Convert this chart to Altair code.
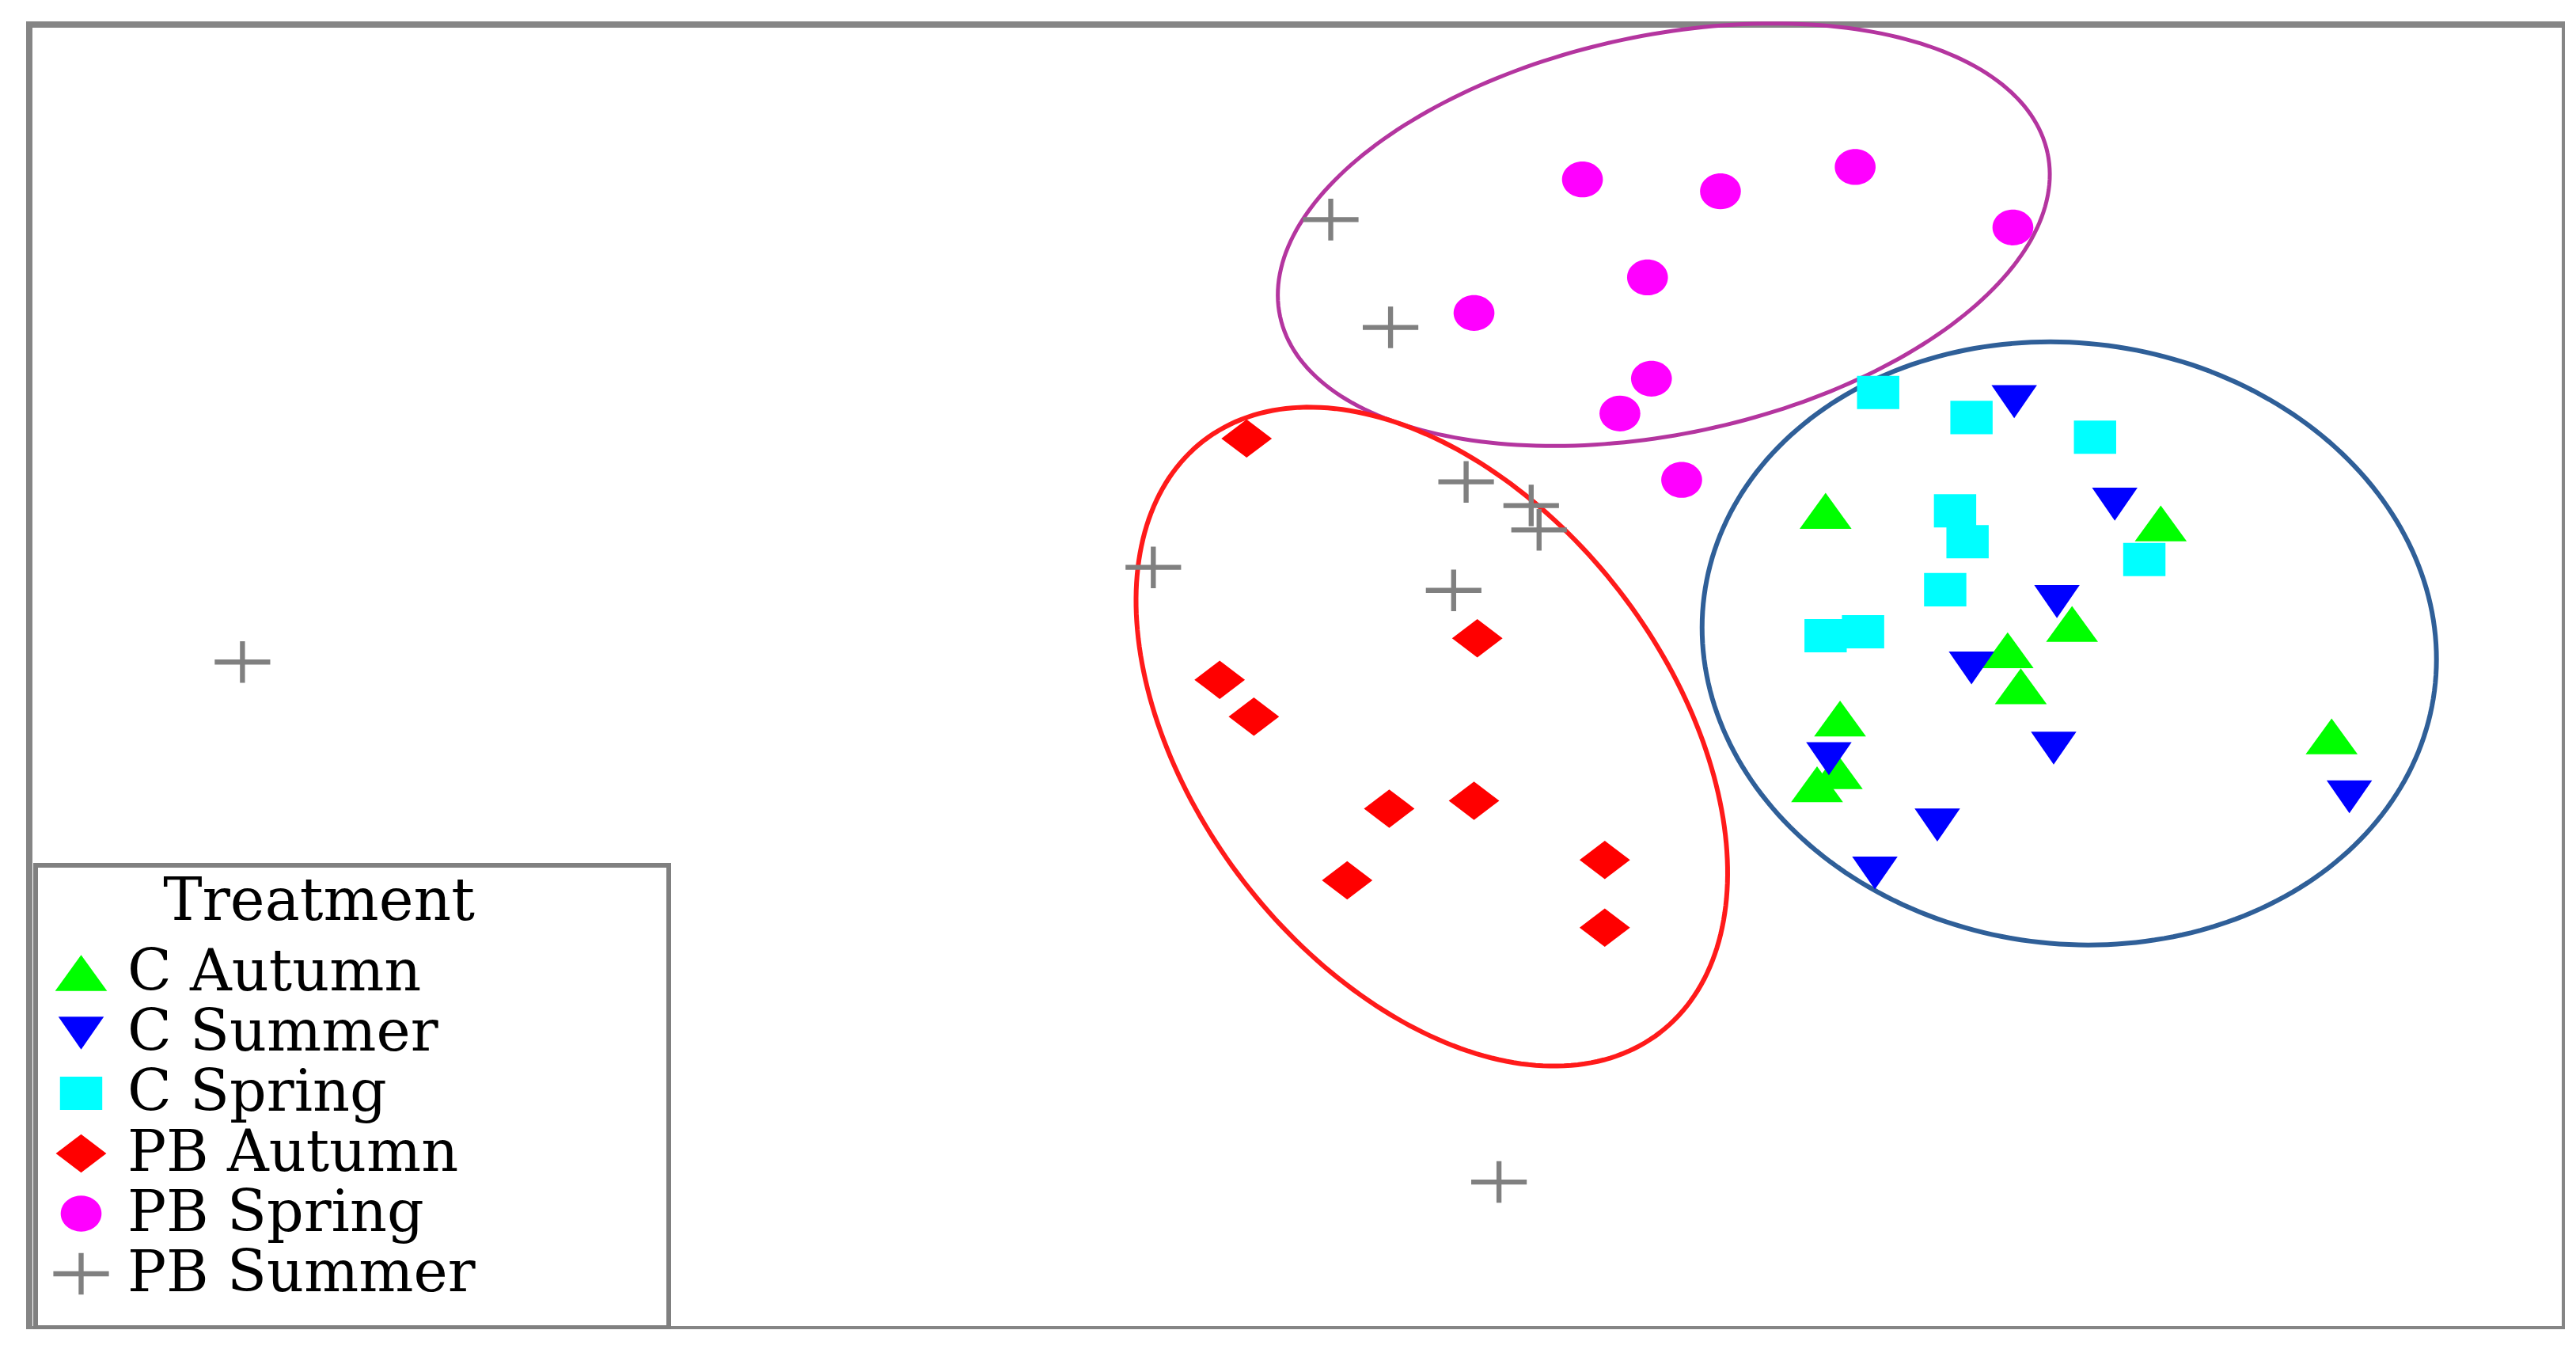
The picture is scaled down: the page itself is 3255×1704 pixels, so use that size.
import altair as alt
import numpy as np
import pandas as pd

# ---- categories and styling -------------------------------------------
groups = ["C Autumn", "C Summer", "C Spring", "PB Autumn", "PB Spring", "PB Summer"]
colors = ["#00FF00", "#0000FF", "#00FFFF", "#FF0000", "#FF00FF", "#808080"]
shapes = [
    "M0,-1L1.45,1L-1.45,1Z",                                   # triangle up
    "M0,0.92L1.27,-0.92L-1.27,-0.92Z",                         # triangle down
    "M-1.18,-0.93H1.18V0.93H-1.18Z",                            # square
    "M-1.41,0L0,-1.07L1.41,0L0,1.07Z",                          # diamond
    "M-1.14,0A1.14,1,0,1,0,1.14,0A1.14,1,0,1,0,-1.14,0Z",      # dot
    "M-1.55,-0.14H-0.14V-1.16H0.14V-0.14H1.55V0.14H0.14V1.16H-0.14V0.14H-1.55Z",  # plus
]

# ---- ordination scores --------------------------------------------------
c_autumn_x = [0.778, 1.288, 1.153, 1.055, 1.075, 0.800, 0.795, 0.765, 1.548]
c_autumn_y = [0.273, 0.254, 0.101, 0.061, 0.006, -0.043, -0.123, -0.143, -0.070]
c_summer_x = [1.065, 1.218, 1.130, 1.000, 1.125, 0.783, 0.948, 0.853, 1.575]
c_summer_y = [0.439, 0.283, 0.135, 0.034, -0.088, -0.104, -0.205, -0.278, -0.162]
c_spring_x = [0.858, 1.000, 1.188, 0.975, 0.994, 1.263, 0.960, 0.778, 0.835]
c_spring_y = [0.453, 0.415, 0.385, 0.273, 0.226, 0.199, 0.153, 0.083, 0.089]
pb_autumn_x = [-0.103, 0.248, -0.144, -0.092, 0.114, 0.243, 0.442, 0.050, 0.442]
pb_autumn_y = [0.383, 0.079, 0.016, -0.040, -0.180, -0.168, -0.258, -0.289, -0.361]
pb_spring_x = [0.408, 0.618, 0.823, 1.063, 0.507, 0.243, 0.513, 0.465, 0.559]
pb_spring_y = [0.777, 0.759, 0.796, 0.704, 0.628, 0.574, 0.474, 0.421, 0.320]
pb_summer_x = [-1.631, 0.025, 0.116, 0.231, 0.330, 0.342, -0.245, 0.212, 0.281]
pb_summer_y = [0.043, 0.716, 0.552, 0.317, 0.281, 0.244, 0.187, 0.152, -0.748]

# ---- group ellipses ------------------------------------------------------
ell_names = ["PB Spring", "PB Autumn", "C"]
ell_cx = [0.5318, 0.1788, 1.1488]
ell_cy = [0.6930, -0.0705, 0.0713]
ell_a = [0.5970, 0.5685, 0.5603]
ell_b = [0.3030, 0.3613, 0.4568]
ell_angle = [12.0, -52.3, -7.4]
ell_colors = ["#B4359F", "#FF1A1A", "#2F5F98"]
ell_widths = [5, 6, 6]

x_domain = [-1.9554, 1.9030]
y_domain = [-0.9719, 1.0127]

# ---- build tables ----------------------------------------------------------
xs = [c_autumn_x, c_summer_x, c_spring_x, pb_autumn_x, pb_spring_x, pb_summer_x]
ys = [c_autumn_y, c_summer_y, c_spring_y, pb_autumn_y, pb_spring_y, pb_summer_y]
rows = []
for g, gx, gy in zip(groups, xs, ys):
    for a, b in zip(gx, gy):
        rows.append({"Treatment": g, "NMDS1": a, "NMDS2": b})
pts = pd.DataFrame(rows)

xscale = alt.Scale(domain=x_domain, nice=False, zero=False)
yscale = alt.Scale(domain=y_domain, nice=False, zero=False)

layers = []
t = np.linspace(0, 2 * np.pi, 241)
for name, cx, cy, a, b, ang, col, w in zip(ell_names, ell_cx, ell_cy, ell_a, ell_b,
                                           ell_angle, ell_colors, ell_widths):
    th = np.deg2rad(ang)
    ex = cx + a * np.cos(t) * np.cos(th) - b * np.sin(t) * np.sin(th)
    ey = cy + a * np.cos(t) * np.sin(th) + b * np.sin(t) * np.cos(th)
    df = pd.DataFrame({"NMDS1": ex, "NMDS2": ey, "i": np.arange(len(t))})
    layers.append(
        alt.Chart(df).mark_line(color=col, strokeWidth=w).encode(
            x=alt.X("NMDS1:Q", scale=xscale, axis=None),
            y=alt.Y("NMDS2:Q", scale=yscale, axis=None),
            order="i:Q",
        )
    )

FONT = "DejaVu Serif"
legend = alt.Legend(
    title=None,
    orient="none",
    legendX=29,
    legendY=1160,
    padding=0,
    symbolSize=2050,
    symbolStrokeWidth=0,
    symbolOpacity=1,
    labelFont=FONT,
    labelFontSize=73,
    labelColor="black",
    labelOffset=22,
    labelLimit=2000,
    clipHeight=76,
    rowPadding=0,
)

box = alt.Chart(alt.Data(values=[{"k": 1}])).mark_rect(
    fill="white", stroke="#808080", strokeWidth=6
).encode(
    x=alt.value(8), x2=alt.value(808), y=alt.value(1062), y2=alt.value(1646)
)

title = alt.Chart(alt.Data(values=[{"t": "Treatment"}])).mark_text(
    font=FONT, fontSize=74, color="black", align="center", baseline="middle"
).encode(x=alt.value(366), y=alt.value(1109), text="t:N")

points = alt.Chart(pts).mark_point(filled=True, size=2050, opacity=1, strokeWidth=0).encode(
    x=alt.X("NMDS1:Q", scale=xscale, axis=None),
    y=alt.Y("NMDS2:Q", scale=yscale, axis=None),
    color=alt.Color("Treatment:N", scale=alt.Scale(domain=groups, range=colors), legend=legend),
    shape=alt.Shape("Treatment:N", scale=alt.Scale(domain=groups, range=shapes), legend=legend),
)

chart = alt.layer(*layers, points, box, title).properties(
    width=3204,
    height=1648,
    autosize=alt.AutoSizeParams(type="none"),
    padding={"left": 29, "top": 23, "right": 0, "bottom": 0},
    background="white",
).configure_view(stroke="#858585", strokeWidth=8)

chart.save("out.html", embed_options={"renderer": "svg", "actions": False})
